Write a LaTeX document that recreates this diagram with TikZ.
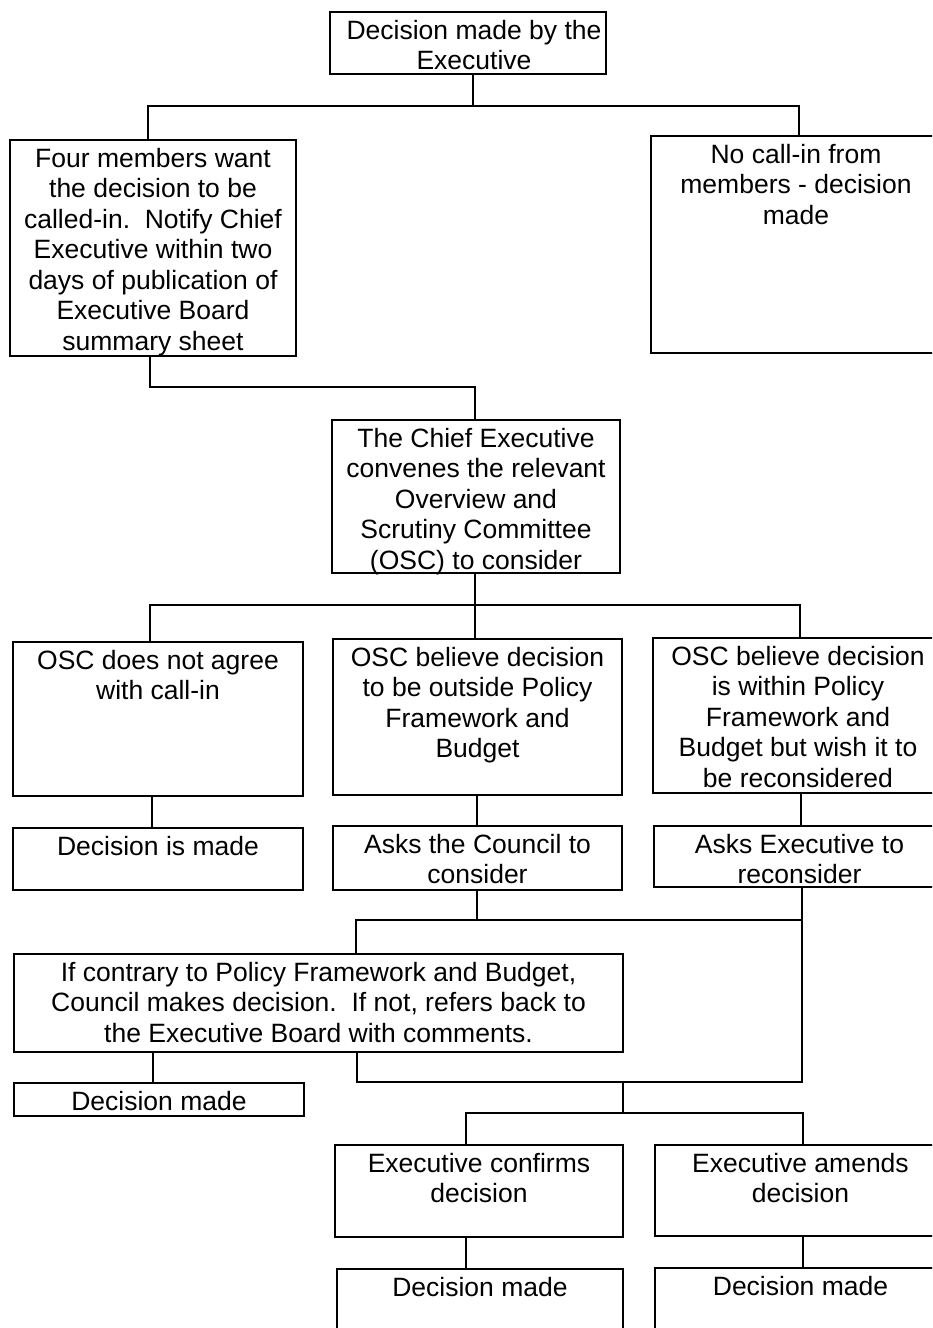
\documentclass[tikz,border=0pt]{standalone}
\usepackage{fontspec}
\setmainfont{Liberation Sans}
\newcommand\bxt[3]{\parbox[c][\dimexpr #2pt/2\relax][t]{\dimexpr #1pt/2\relax}{\centering\vspace*{2.83pt}\strut #3\par}}
\begin{document}
\begin{tikzpicture}[x=0.5pt,y=-0.5pt,
  box/.style={draw, line width=1pt, inner sep=0pt, outer sep=0pt, anchor=north west,
    font=\fontsize{13.25pt}{15.25pt}\selectfont},
  wire/.style={draw, line width=1pt, line join=miter}]
\useasboundingbox (0,0) rectangle (932,1328);
\fill[white] (0,0) rectangle (932,1328);
\clip (0,0) rectangle (932,1328);
\frenchspacing
% boxes
\node[box] (t) at (330,12) {\bxt{276}{62}{\hspace*{6pt}Decision made by the\\\hspace*{6pt}Executive}};
\node[box] (a) at (10,140) {\bxt{286}{216}{Four members want\\the decision to be\\called-in.\ \ Notify Chief\\Executive within two\\days of publication of\\Executive Board\\summary sheet}};
\node[box] (b) at (651,136) {\bxt{290}{217}{No call-in from\\members - decision\\made}};
\node[box] (c) at (332,420) {\bxt{288}{153}{The Chief Executive\\convenes the relevant\\Overview and\\Scrutiny Committee\\(OSC) to consider}};
\node[box] (d) at (13,642) {\bxt{290}{154}{OSC does not agree\\with call-in}};
\node[box] (e) at (333,639) {\bxt{289}{156}{OSC believe decision\\to be outside Policy\\Framework and\\Budget}};
\node[box] (f) at (653,638) {\bxt{290}{155}{OSC believe decision\\is within Policy\\Framework and\\Budget but wish it to\\be reconsidered}};
\node[box] (g) at (13,828) {\bxt{290}{62}{Decision is made}};
\node[box] (h) at (333,826) {\bxt{289}{64}{Asks the Council to\\consider}};
\node[box] (i) at (654,826) {\bxt{291}{61}{Asks Executive to\\reconsider}};
\node[box] (j) at (14,954) {\bxt{609}{98}{If contrary to Policy Framework and Budget,\\Council makes decision.\ \ If not, refers back to\\the Executive Board with comments.}};
\node[box] (k) at (14,1083) {\bxt{290}{33}{Decision made}};
\node[box] (l) at (335,1145) {\bxt{288}{92}{Executive confirms\\decision}};
\node[box] (m) at (655,1145) {\bxt{291}{91}{Executive amends\\decision}};
\node[box] (n) at (337,1269) {\bxt{286}{71}{Decision made}};
\node[box] (o) at (655,1268) {\bxt{291}{72}{Decision made}};
% junctions
\coordinate (p1) at (473,106); \coordinate (p1l) at (148,106); \coordinate (p1r) at (799,106);
\coordinate (p2) at (150,387); \coordinate (p2r) at (475,387);
\coordinate (p3) at (475,605); \coordinate (p3l) at (150,605); \coordinate (p3r) at (800,605);
\coordinate (q1) at (152,810); \coordinate (q2) at (477,810); \coordinate (q3) at (801,810);
\coordinate (p4) at (477,920); \coordinate (p4l) at (356,920); \coordinate (p4r) at (802,920);
\coordinate (p5) at (623,1082); \coordinate (p5l) at (357,1082); \coordinate (p5r) at (802,1082);
\coordinate (q4) at (153,1070);
\coordinate (p6) at (623,1113); \coordinate (p6l) at (466,1113); \coordinate (p6r) at (803,1113);
% connectors
\draw[wire] (t.south -| p1) -- (p1);
\draw[wire] (a.north -| p1l) -- (p1l) -- (p1r) -- (b.north -| p1r);
\draw[wire] (a.south -| p2) -- (p2) -- (p2r) -- (c.north -| p2r);
\draw[wire] (c.south -| p3) -- (e.north -| p3);
\draw[wire] (d.north -| p3l) -- (p3l) -- (p3r) -- (f.north -| p3r);
\draw[wire] (d.south -| q1) -- (g.north -| q1);
\draw[wire] (e.south -| q2) -- (h.north -| q2);
\draw[wire] (f.south -| q3) -- (i.north -| q3);
\draw[wire] (h.south -| p4) -- (p4);
\draw[wire] (j.north -| p4l) -- (p4l) -- (p4r);
\draw[wire] (j.south -| p5l) -- (p5l) -- (p5r) -- (i.south -| p5r);
\draw[wire] (j.south -| q4) -- (k.north -| q4);
\draw[wire] (p5) -- (p6);
\draw[wire] (l.north -| p6l) -- (p6l) -- (p6r) -- (m.north -| p6r);
\draw[wire] (l.south -| p6l) -- (n.north -| p6l);
\draw[wire] (m.south -| p6r) -- (o.north -| p6r);
\end{tikzpicture}
\end{document}
